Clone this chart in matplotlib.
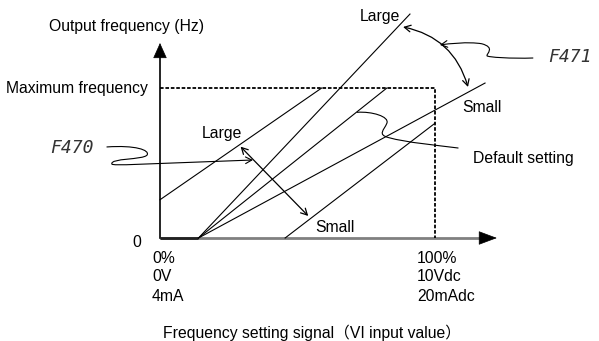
import matplotlib
matplotlib.use("Agg")
import matplotlib.pyplot as plt
from matplotlib.patches import FancyArrowPatch
from matplotlib.path import Path

# ---- data (x: input signal %, y: output frequency % of maximum) ----
bias_x = 14.0                       # point where output starts rising
zero_x = [0, bias_x]
zero_y = [0, 0]

steep_x = [bias_x, 90.9]            # "Large" gain line
steep_y = [0, 149.3]
default_x = [bias_x, 82.5]          # default setting line
default_y = [0, 100]
small_x = [bias_x, 118.2]           # "Small" gain line
small_y = [0, 103.3]
bias_large_x = [0, 58.8]            # bias shifted "Large"
bias_large_y = [25.5, 100]
bias_small_x = [45.5, 100]          # bias shifted "Small"
bias_small_y = [0, 76.5]

max_line_x = [0, 100, 100]          # maximum-frequency frame (dashed)
max_line_y = [100, 100, 0]

y_axis_top = 130
x_axis_end = 122.5

bias_arrow_start = (29.3, 60.9)
bias_arrow_end = (53.9, 14.7)
gain_arrow_start = (88.4, 140.7)
gain_arrow_end = (112.0, 100.7)

f470_path = [(-19.3, 60.7), (-9.1, 62.0), (-3.6, 58.7), (-4.7, 55.3),
             (-6.2, 52.0), (-18.2, 53.3), (-17.5, 49.3),
             (-17.1, 48.0), (-7.3, 49.3), (33.8, 52.0)]
f471_path = [(135.6, 120.0), (128.0, 119.5), (119.0, 120.5), (118.9, 121.5),
             (118.8, 123.0), (122.0, 127.0), (117.0, 129.5),
             (112.0, 131.0), (105.0, 129.5), (101.8, 128.7)]
default_path = [(71.7, 83.8), (77.0, 84.5), (83.5, 81.0), (82.5, 76.5),
                (81.5, 72.0), (79.0, 69.0), (83.0, 67.0),
                (90.0, 63.5), (100.0, 62.0), (108.4, 60.0)]

tick_left = ["0%", "0V", "4mA"]
tick_right = ["100%", "10Vdc", "20mAdc"]
tick_rows_y = [-14.0, -26.0, -39.3]

# ---- figure ----
plt.rcParams['font.family'] = ['Liberation Sans', 'Noto Sans CJK SC', 'DejaVu Sans']
fig = plt.figure(figsize=(5.99, 3.41), dpi=100)
ax = fig.add_axes([0, 0, 1, 1])
ax.set_xlim(-58.18, 159.64)
ax.set_ylim(-68.67, 158.67)
ax.axis('off')

FS = 11.3
LW = 0.8

# axes
ax.plot([0, x_axis_end - 5], [0, 0], color='#808080', lw=2.0, solid_capstyle='butt')
ax.annotate('', xy=(x_axis_end, 0), xytext=(x_axis_end - 4, 0),
            arrowprops=dict(arrowstyle='-|>,head_length=1.2,head_width=0.45',
                            mutation_scale=10, color='black', lw=0.5,
                            shrinkA=0, shrinkB=0))
ax.plot([0, 0], [0, y_axis_top - 5], color='black', lw=1.2)
ax.annotate('', xy=(0, y_axis_top), xytext=(0, y_axis_top - 4),
            arrowprops=dict(arrowstyle='-|>,head_length=1.0,head_width=0.45',
                            mutation_scale=10, color='black', lw=0.5,
                            shrinkA=0, shrinkB=0))
ax.plot(zero_x, zero_y, color='#222222', lw=2.0, solid_capstyle='butt')

# dashed max frame
ax.plot(max_line_x, max_line_y, color='black', lw=1.3, linestyle=(0, (2, 1)))

# characteristic lines
for xs, ys in [(steep_x, steep_y), (default_x, default_y), (small_x, small_y),
               (bias_large_x, bias_large_y), (bias_small_x, bias_small_y)]:
    ax.plot(xs, ys, color='black', lw=LW)

# double arrows
ax.add_patch(FancyArrowPatch(bias_arrow_start, bias_arrow_end, arrowstyle='<->,head_length=3,head_width=1.6',
                             mutation_scale=1.5, color='black', lw=0.9, shrinkA=0, shrinkB=0))
ax.add_patch(FancyArrowPatch(gain_arrow_start, gain_arrow_end, connectionstyle='arc3,rad=-0.3',
                             arrowstyle='<->,head_length=3,head_width=1.6',
                             mutation_scale=1.5, color='black', lw=0.9, shrinkA=0, shrinkB=0))

# callouts
def bez_path(pts):
    codes = [Path.MOVETO] + [Path.CURVE4] * (len(pts) - 1)
    return Path(pts, codes)

ax.add_patch(FancyArrowPatch(path=bez_path(f470_path), arrowstyle='->,head_length=3,head_width=1.6',
                             mutation_scale=1.5, color='black', lw=0.8))
ax.add_patch(FancyArrowPatch(path=bez_path(f471_path), arrowstyle='->,head_length=3,head_width=1.6',
                             mutation_scale=1.5, color='black', lw=0.8))
ax.add_patch(FancyArrowPatch(path=bez_path(default_path), arrowstyle='-',
                             color='black', lw=0.8))

# texts
ax.text(-12, 140.7, "Output frequency (Hz)", fontsize=FS, ha='center', va='center')
ax.text(-4.4, 100, "Maximum frequency", fontsize=FS, ha='right', va='center')
ax.text(-8.4, -3.3, "0", fontsize=FS, ha='center', va='center')
for lab, yy in zip(tick_left, tick_rows_y):
    ax.text(-2.9, yy, lab, fontsize=FS, ha='left', va='center')
for lab, yy in zip(tick_right, tick_rows_y):
    ax.text(93.5, yy, lab, fontsize=FS, ha='left', va='center')
ax.text(55.3, -63.3, "Frequency setting signal（VI input value）", fontsize=FS,
        ha='center', va='center')
ax.text(22.5, 70, "Large", fontsize=FS, ha='center', va='center')
ax.text(63.5, 6.7, "Small", fontsize=FS, ha='center', va='center')
ax.text(80, 148, "Large", fontsize=FS, ha='center', va='center')
ax.text(116.9, 87.3, "Small", fontsize=FS, ha='center', va='center')
ax.text(113.8, 53.3, "Default setting", fontsize=FS, ha='left', va='center')
ax.text(-32, 60, "F470", fontsize=13, ha='center', va='center',
        family='DejaVu Sans Mono', style='oblique', color='#333333')
ax.text(149, 120.7, "F471", fontsize=13, ha='center', va='center',
        family='DejaVu Sans Mono', style='oblique', color='#333333')

fig.savefig("out.png", dpi=100)
